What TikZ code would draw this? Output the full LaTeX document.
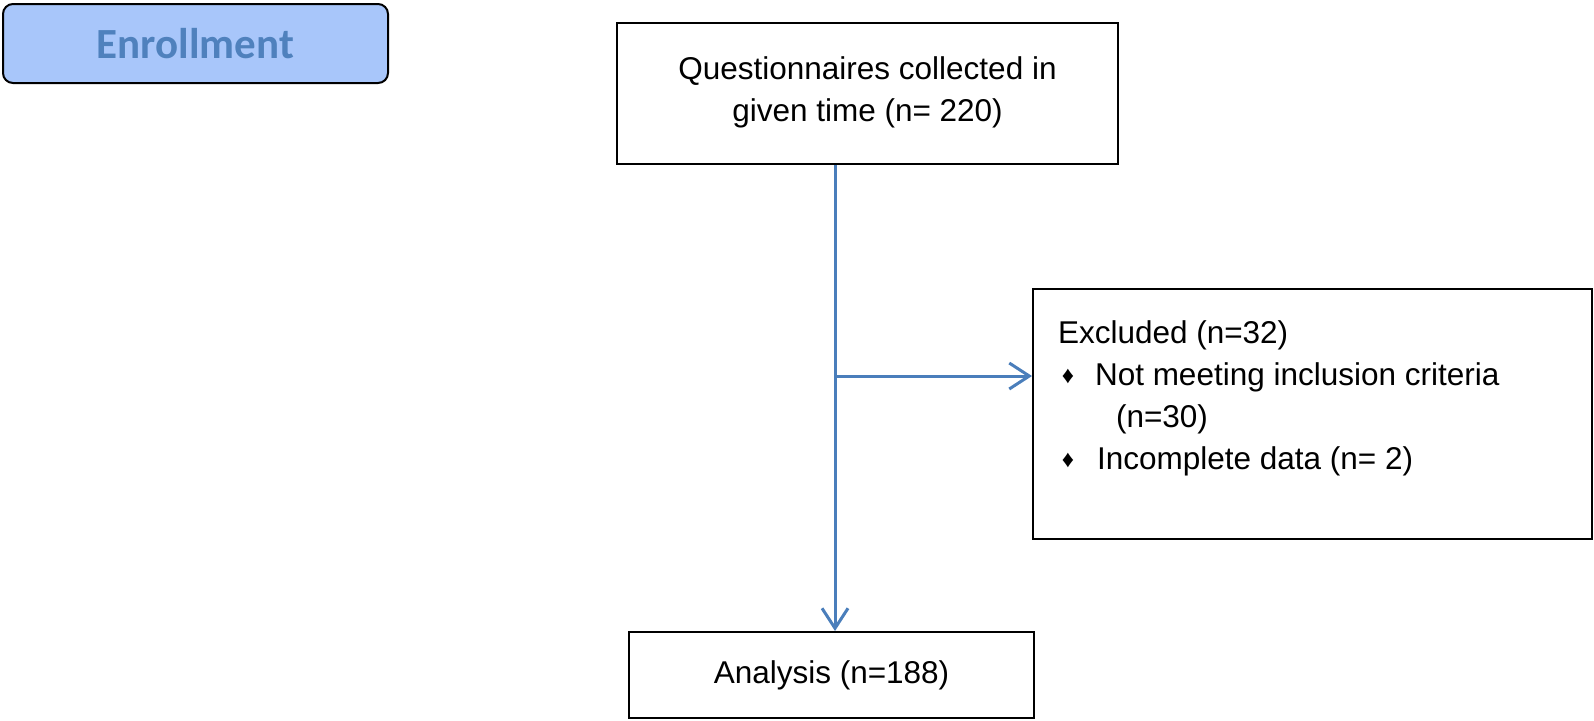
\documentclass[tikz,border=0pt]{standalone}
\usepackage{fontspec}
\setmainfont{Liberation Sans}
\newfontfamily\enrollfont{Carlito}
\definecolor{enrollfill}{RGB}{168, 198, 250}
\definecolor{enrolltext}{RGB}{79, 129, 189}
\definecolor{flowblue}{RGB}{74, 126, 187}
\usetikzlibrary{arrows.meta}
\newcommand{\bul}{\makebox[0pt][c]{\raisebox{1pt}{\fontsize{12}{12}\selectfont ♦}}}

\begin{document}
\begin{tikzpicture}[x=0.5pt, y=-0.5pt,
  fbox/.style={draw, line width=1pt, inner sep=0pt, font=\fontsize{15.75}{21}\selectfont},
  ebox/.style={draw, line width=1pt, rounded corners=5pt, fill=enrollfill, text=enrolltext, minimum width=192.5pt, minimum height=39.5pt, font=\enrollfont\bfseries\fontsize{21.5}{25}\selectfont},
  flow/.style={draw=flowblue, line width=1.5pt, -{Straight Barb[length=10pt, width=13pt]}}
]
  \useasboundingbox (0,0) rectangle (1594,720);
  \node[ebox] (enroll) at (195.5, 43.5) {Enrollment};
  \node[fbox, minimum width=250.5pt, minimum height=70.5pt, align=center] (quest) at (867.5, 93.5) {
    Questionnaires collected in\\
    given time (n= 220)\rule[-4pt]{0pt}{0pt}
  };
  \node[fbox, inner xsep=12.5pt] (excl) at (1312.5, 414) {%
    \begin{minipage}[c][125pt][t]{254.5pt}\raggedright
      \rule{0pt}{27pt}Excluded (n=32)\\
      \makebox[18.5pt][l]{\hspace{5pt}\bul}Not meeting inclusion criteria\\
      \hspace*{29pt}(n=30)\\
      \makebox[19.5pt][l]{\hspace{5pt}\bul}Incomplete data (n= 2)
    \end{minipage}%
  };
  \node[fbox, minimum width=202.5pt, minimum height=43pt] (analysis) at (831.5, 675) {Analysis (n=188)};
  \coordinate (split) at (835, 376);
  \draw[flow] (split |- quest.south) -- (split |- analysis.north);
  \draw[flow] (split) -- (split -| excl.west);
\end{tikzpicture}
\end{document}
